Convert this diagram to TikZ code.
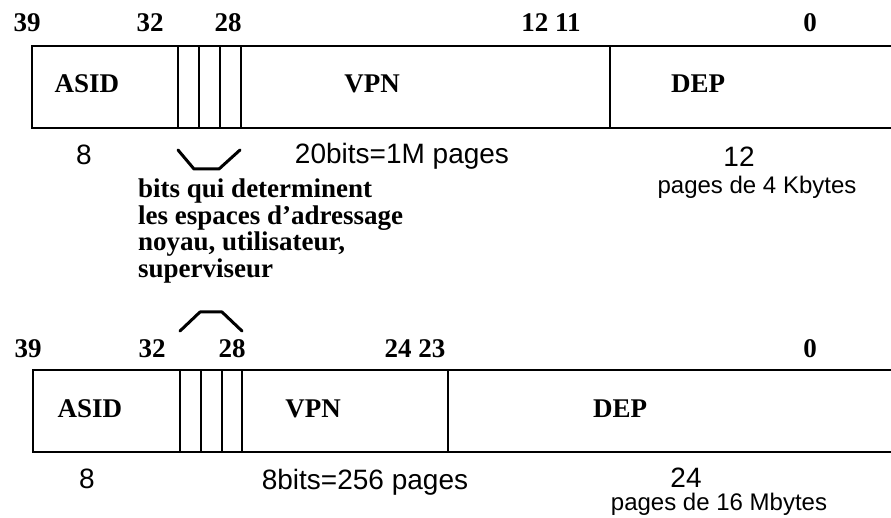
\documentclass[tikz,border=0pt]{standalone}
\usepackage{fontspec}
\setmainfont{Liberation Serif}
\newfontfamily\sansf{Liberation Sans}
\begin{document}
\begin{tikzpicture}[x=1pt,y=-1pt,
  bitnum/.style={font=\fontsize{27}{27}\selectfont\bfseries, anchor=base, inner sep=0pt},
  fieldname/.style={font=\fontsize{27}{27}\selectfont\bfseries, anchor=base, inner sep=0pt},
  sizetxt/.style={font=\sansf\fontsize{28}{28}\selectfont, anchor=base, inner sep=0pt},
  smalltxt/.style={font=\sansf\fontsize{24}{24}\selectfont, anchor=base, inner sep=0pt},
  notetxt/.style={font=\fontsize{27}{26.5}\selectfont\bfseries, anchor=north west, align=left, inner sep=0pt},
  reg/.style={line width=2.2pt},
  bracket/.style={line width=3pt, line join=round, line cap=round}]
\useasboundingbox (0,0) rectangle (891,518);

% ---------- top register ----------
\draw[reg] (891,46) -- (32,46) -- (32,128) -- (891,128);
\foreach \x in {178,199,220,241,610} \draw[reg] (\x,46) -- (\x,128);

\node[bitnum] (t39) at (27,32) {39};
\node[bitnum] (t32) at (150,32) {32};
\node[bitnum] (t28) at (228,32) {28};
\node[bitnum] (t1211) at (551,32) {12 11};
\node[bitnum] (t0) at (810,32) {0};

\node[fieldname] (tasid) at (87,93) {ASID};
\node[fieldname] (tvpn) at (372,93) {VPN};
\node[fieldname] (tdep) at (698,93) {DEP};

\node[sizetxt] (t8) at (84,165) {8};
\node[sizetxt] (t20) at (402,164) {20bits=1M pages};
\node[sizetxt] (t12) at (739,167) {12};
\node[smalltxt] (t4k) at (757,194) {pages de 4 Kbytes};

\draw[bracket] (178,150) -- (194,169) -- (219,169) -- (240,150);

\node[notetxt] (note) at (138,179) {bits qui determinent\\les espaces d’adressage\\noyau, utilisateur,\\superviseur};

\draw[bracket] (180,331) -- (200,312) -- (222,312) -- (242,331);

% ---------- bottom register ----------
\draw[reg] (891,370) -- (33,370) -- (33,452) -- (891,452);
\foreach \x in {180,201,222,242,448} \draw[reg] (\x,370) -- (\x,452);

\node[bitnum] (b39) at (28,358) {39};
\node[bitnum] (b32) at (152,358) {32};
\node[bitnum] (b28) at (232,358) {28};
\node[bitnum] (b2423) at (415,358) {24 23};
\node[bitnum] (b0) at (810,358) {0};

\node[fieldname] (basid) at (90,417) {ASID};
\node[fieldname] (bvpn) at (313,417) {VPN};
\node[fieldname] (bdep) at (620,417) {DEP};

\node[sizetxt] (b8) at (87,488) {8};
\node[sizetxt] (b8bits) at (365,489) {8bits=256 pages};
\node[sizetxt] (b24) at (686,487) {24};
\node[smalltxt] (b16m) at (719,510) {pages de 16 Mbytes};
\end{tikzpicture}
\end{document}
